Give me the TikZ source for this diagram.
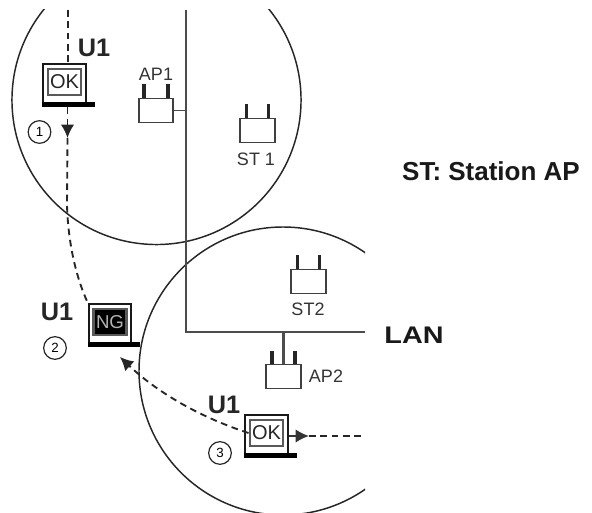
\documentclass[tikz,border=0pt]{standalone}
\usepackage{fontspec}
\setmainfont{Liberation Sans}
\usetikzlibrary{arrows.meta,calc}
\tikzset{
  x=0.75pt,y=-0.75pt,
  radio/.style={draw=black!75,line width=1.3pt,fill=white,minimum width=26pt,minimum height=18pt,inner sep=0pt},
  ant/.style={black!85,line width=2.3pt},
  lan/.style={black!70,line width=1.9pt},
  lbl/.style={font=\fontsize{13.5pt}{14pt}\selectfont,text=black!80,inner sep=0pt},
  ulbl/.style={font=\bfseries\fontsize{19pt}{20pt}\selectfont,text=black!85,inner sep=0pt},
  numc/.style={circle,draw=black!85,line width=0.9pt,minimum size=17pt,inner sep=0pt,font=\fontsize{10pt}{11pt}\selectfont},
  laptop/.style={draw=black!90,line width=1.4pt,fill=white,minimum width=32pt,minimum height=32pt,inner sep=0pt},
  bigc/.style={black!85,line width=1.1pt},
  mv/.style={black!85,line width=1.4pt,dash pattern=on 5pt off 3.5pt},
  tip/.style={-{Latex[length=10pt,width=10pt]}},
}
\newcommand{\radiobox}[5]{% name, cx, cy, dxant, height of box
  \draw[ant] (#2-#4,#3-#5) -- ++(0,-14);
  \draw[ant] (#2+#4,#3-#5) -- ++(0,-14);
  \node[radio] (#1) at (#2,#3) {};
}
\newcommand{\lap}[4]{% name, cx, cy, screen colour
  \node[laptop] (#1) at (#2,#3) {};
  \node[draw=black!65,line width=1.9pt,fill=#4,minimum width=25pt,minimum height=19.5pt,inner sep=0pt] (#1s) at ($(#1.center)+(0,-3)$) {};
  \fill[black] ($(#1.south west)+(0,-5)$) rectangle ($(#1.south east)+(8,0)$);
}
\begin{document}
\begin{tikzpicture}
\useasboundingbox (0,0) rectangle (592,513);
\fill[white] (0,0) rectangle (592,513);
% big circles
\begin{scope}
\clip (0,10) rectangle (592,513);
\draw[bigc] (156.5,100) circle[radius=108.4pt];
\end{scope}
\begin{scope}
\clip (0,0) rectangle (365,513);
\draw[bigc] (283,371) circle[radius=108pt];
\end{scope}
% LAN
\coordinate (lantop) at (186,10);
\coordinate (lancorner) at (186,332);
\coordinate (lanend) at (365,332);
\draw[lan,line join=miter] (lantop) -- (lancorner) -- (lanend);
% radios
\radiobox{ap1}{156}{110.5}{12}{12}
\radiobox{st1}{257.5}{130.5}{11}{12}
\radiobox{st2}{308.5}{281.5}{11}{12}
\radiobox{ap2}{283.5}{376.5}{11.5}{12}
\coordinate (ap1lan) at (186,110.5);
\coordinate (ap2lan) at (283.5,332);
\draw[black!70,line width=1.2pt] (ap1.east) -- (ap1lan);
\draw[black!70,line width=1.8pt] (ap2lan) -- (ap2.north);
% laptops
\lap{la}{64.5}{85}{white}
\lap{lb}{110}{325}{black}
\lap{lc}{266.5}{436}{white}
\node[inner sep=0pt,font=\fontsize{15pt}{16pt}\selectfont,text=black!85] at (las.center) {OK};
\node[inner sep=0pt,font=\fontsize{14pt}{15pt}\selectfont,text=black!30] at (lbs.center) {NG};
\node[inner sep=0pt,font=\fontsize{15pt}{16pt}\selectfont,text=black!85] at (lcs.center) {OK};
% movement
\coordinate (top) at (68,10);
\coordinate (exit) at (365,436);
\coordinate (m1) at (67.5,138);
\coordinate (m3) at (309,436);
\draw[mv] (top) -- (la.north -| top);
\draw[mv,tip] (la.south -| m1) -- (m1);
\draw[mv] (m1) -- (67,205) .. controls (68,240) and (75,275) .. (lb.north west);
\draw[mv,tip] (lcs.west) .. controls (205,419) and (160,395) .. (120,357);
\draw[black!80,line width=1.3pt,tip] (lc.east |- m3) -- (m3);
\draw[mv] (m3) -- (exit);
% labels
\node[lbl] at (156,74) {AP1};
\node[lbl] at (256,159) {ST 1};
\node[lbl] at (308,309) {ST2};
\node[lbl] at (326,376) {AP2};
\node[ulbl] at (94,48) {U1};
\node[ulbl] at (57,312) {U1};
\node[ulbl] at (224,405) {U1};
\node[numc] at (39.5,132) {1};
\node[numc] at (55,348) {2};
\node[numc] at (220,453) {3};
\node[font=\bfseries\fontsize{18pt}{19pt}\selectfont,inner sep=0pt,text=black!90,xscale=1.2,transform shape] at (414,335) {LAN};
\node[font=\bfseries\fontsize{19.5pt}{21pt}\selectfont,inner sep=0pt,text=black!90] at (491,171) {ST: Station AP};
\end{tikzpicture}
\end{document}
